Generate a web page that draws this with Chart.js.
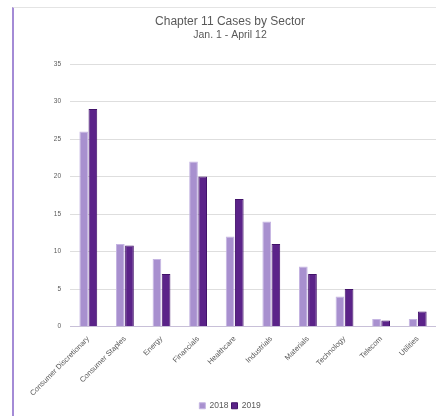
<!DOCTYPE html>
<html>
<head>
<meta charset="utf-8">
<script src="https://cdn.jsdelivr.net/npm/chart.js@4/dist/chart.umd.min.js"></script>
<style>
  body { margin: 0; background: #fff; }
  #wrap { position: relative; width: 436px; height: 416px; }
  #frame { position: absolute; left: 12px; top: 7px; right: 0; bottom: 0;
           border-left: 2px solid #a48bd6; border-top: 1px solid #e4e4e4; pointer-events: none; }
</style>
</head>
<body>
<div id="wrap">
  <canvas id="myBarChart" width="436" height="416"></canvas>
  <div id="frame"></div>
</div>
<script>
// sectors and counts
const sectors = ['Consumer Discretionary', 'Consumer Staples', 'Energy', 'Financials', 'Healthcare',
  'Industrials', 'Materials', 'Technology', 'Telecom', 'Utilities']
const cases2018 = [26, 11, 9, 22, 12, 14, 8, 4, 1, 1]
const cases2019 = [29, 10.8, 7, 20, 17, 11, 7, 5, 0.8, 2]
const yTicks = [0, 5, 10, 15, 20, 25, 30, 35]

const fontFam = "'Liberation Sans', Arial, sans-serif"
var ctx = document.getElementById("myBarChart")

var myBarChart = new Chart(ctx, {
  type: 'bar',
  data: {
    labels: sectors,
    datasets: [{
      label: '2018',
      data: cases2018,
      backgroundColor: '#a890cf',
      borderColor: '#c5b5e2',
      borderWidth: 1,
      categoryPercentage: 0.5,
      barPercentage: 0.95
    }, {
      label: '2019',
      data: cases2019,
      backgroundColor: '#5b2389',
      borderColor: '#42136a',
      borderWidth: 1,
      categoryPercentage: 0.5,
      barPercentage: 0.95
    }]
  },
  options: {
    responsive: false,
    animation: false,
    // left padding centres the titles the way the framed original does
    layout: { padding: { top: 0, left: 24, right: 0, bottom: -4 } },
    plugins: {
      title: {
        display: true,
        text: 'Chapter 11 Cases by Sector',
        color: '#595959',
        font: { family: fontFam, size: 12, weight: 'normal' },
        padding: { top: 14, bottom: 0 }
      },
      subtitle: {
        display: true,
        text: 'Jan. 1 - April 12',
        color: '#595959',
        font: { family: fontFam, size: 10.5 },
        padding: { top: 0, bottom: 23 }
      },
      legend: {
        position: 'bottom',
        labels: {
          color: '#595959',
          font: { family: fontFam, size: 8.5 },
          boxWidth: 6,
          boxHeight: 6,
          padding: 3
        }
      },
      tooltip: { enabled: false }
    },
    scales: {
      x: {
        grid: { display: false, tickLength: 6 },
        border: { color: '#c8c0d8' },
        ticks: {
          color: '#595959',
          font: { family: fontFam, size: 7.5 },
          padding: 2,
          minRotation: 45,
          maxRotation: 45,
          autoSkip: false
        },
        afterFit: function (s) { s.height = 72 }
      },
      y: {
        min: 0,
        max: 35,
        afterBuildTicks: function (s) { s.ticks = yTicks.map(v => ({ value: v })) },
        grid: { color: '#dedede', drawTicks: false },
        border: { display: false },
        ticks: {
          color: '#595959',
          font: { family: fontFam, size: 6.5 },
          padding: 9
        },
        afterFit: function (s) { s.width = 46 }
      }
    }
  }
})
</script>
</body>
</html>
